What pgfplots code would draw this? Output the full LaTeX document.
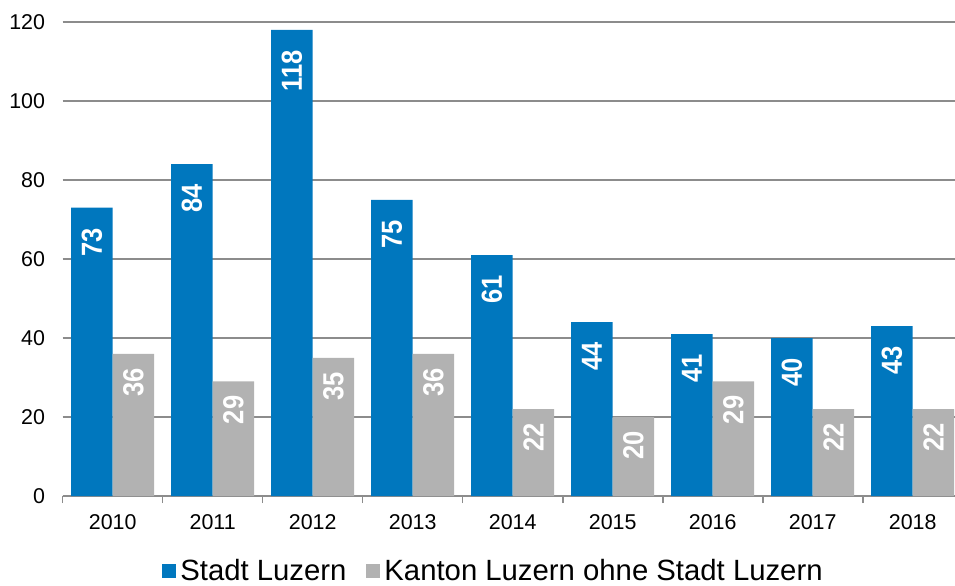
\documentclass[border=0pt]{standalone}
\usepackage{pgfplots}
\pgfplotsset{compat=1.18}
\usepackage{fontspec}
\setmainfont{Liberation Sans}
\definecolor{lblue}{RGB}{0,119,190}
\definecolor{lgrey}{RGB}{178,178,178}
\definecolor{gridgray}{RGB}{140,140,140}
\begin{document}
\begin{tikzpicture}
\begin{axis}[
  scale only axis,
  width=446.15pt, height=237pt,
  xmin=-0.5, xmax=8.423, ymin=0, ymax=120,
  ybar, bar width=0.415,
  axis x line*=bottom, axis y line*=left,
  y axis line style={draw=none},
  x axis line style={draw=gridgray, line width=0.8pt},
  ymajorgrids, grid style={draw=gridgray, line width=0.8pt},
  ytick={0,20,...,120},
  xtick={0,...,8},
  xticklabels={2010,2011,2012,2013,2014,2015,2016,2017,2018},
  minor xtick={-0.5,0.5,...,7.5},
  tick align=outside,
  major tick length=0pt, minor tick length=3.5pt,
  ytick style={draw=none},
  xtick style={draw=none},
  minor x tick style={draw=gridgray, line width=0.8pt},
  ticklabel style={font=\fontsize{10.7}{12}\selectfont},
  /pgf/number format/assume math mode=true,
  yticklabel style={xshift=-5.3pt},
  xticklabel style={yshift=-5.5pt},
  nodes near coords,
  legend style={at={(0.4839,-0.158)}, anchor=center, draw=none, fill=none,
    legend columns=-1, font=\fontsize{14.65}{17}\selectfont,
    /tikz/every even column/.append style={column sep=8pt}},
  legend image code/.code={\fill[#1] (0pt,-3.5pt) rectangle (7pt,3.5pt);},
]
\addplot[fill=lblue, draw=none, bar shift=-0.2075,
  nodes near coords style={font=\fontsize{14.5}{16}\selectfont\bfseries, text=white, yshift=-7pt, rotate=90, xscale=0.88, anchor=east}]
  coordinates {(0,73) (1,84) (2,118) (3,75) (4,61) (5,44) (6,41) (7,40) (8,43)};
\addplot[fill=lgrey, draw=none, bar shift=0.2075,
  nodes near coords style={font=\fontsize{14.5}{16}\selectfont\bfseries, text=white, yshift=-4pt, rotate=90, xscale=0.88, anchor=east}]
  coordinates {(0,36) (1,29) (2,35) (3,36) (4,22) (5,20) (6,29) (7,22) (8,22)};
\legend{Stadt Luzern, Kanton Luzern ohne Stadt Luzern}
\end{axis}
\pgfresetboundingbox
\path ([xshift=-31.35pt,yshift=-44.5pt]current axis.south west) rectangle ([yshift=11pt]current axis.north east);
\end{tikzpicture}
\end{document}
